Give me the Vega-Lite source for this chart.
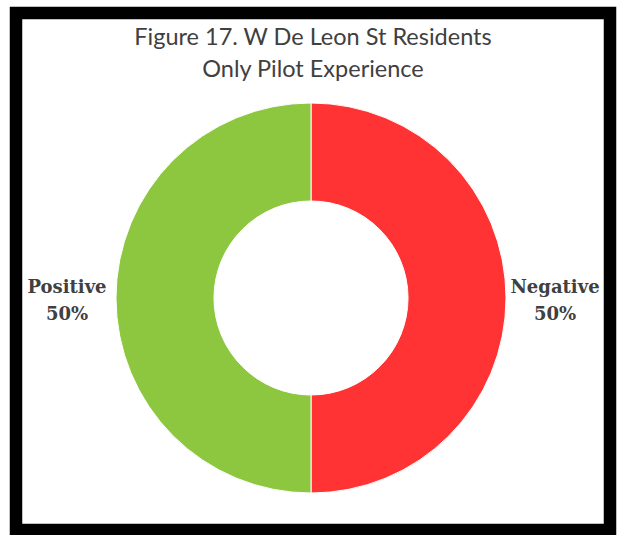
{
  "$schema": "https://vega.github.io/schema/vega-lite/v6.json",
  "width": 617,
  "height": 535,
  "autosize": {"type": "fit", "contains": "padding"},
  "padding": {"left": 16, "top": 13, "right": 7, "bottom": 5},
  "background": "white",
  "view": {"stroke": "#000000", "strokeWidth": 12.5, "fill": "white"},
  "config": {
    "view": {"stroke": "#000000", "strokeWidth": 12.5, "fill": "white"},
    "style": {
      "view": {"stroke": "#000000", "strokeWidth": 12.5, "fill": "white"},
      "cell": {"stroke": "#000000", "strokeWidth": 12.5, "fill": "white"}
    }
  },
  "title": {
    "text": ["Figure 17. W De Leon St Residents", "Only Pilot Experience"],
    "frame": "group",
    "anchor": "middle",
    "orient": "top",
    "offset": -68,
    "font": "Lato",
    "fontSize": 23.5,
    "fontWeight": "normal",
    "color": "#404040",
    "lineHeight": 32
  },
  "data": {
    "values": [
      {"response": "Negative", "pct": 50, "label": "Negative\n50%"},
      {"response": "Positive", "pct": 50, "label": "Positive\n50%"}
    ]
  },
  "encoding": {
    "theta": {"field": "pct", "type": "quantitative", "stack": true},
    "color": {
      "field": "response",
      "type": "nominal",
      "scale": {"domain": ["Negative", "Positive"], "range": ["#FF3333", "#8DC63F"]},
      "legend": null
    }
  },
  "layer": [
    {
      "mark": {"type": "arc", "radius": 195, "radius2": 97, "stroke": "white", "strokeWidth": 1, "xOffset": -2, "yOffset": 26.5}
    },
    {
      "mark": {"type": "text", "radius": 244, "font": "DejaVu Serif", "fontWeight": "bold", "fontSize": 18, "lineBreak": "\n", "lineHeight": 27, "baseline": "middle", "align": "center", "dy": -10, "xOffset": -2, "yOffset": 26.5},
      "encoding": {
        "text": {"field": "label", "type": "nominal"},
        "color": {"value": "#404040"}
      }
    }
  ]
}
